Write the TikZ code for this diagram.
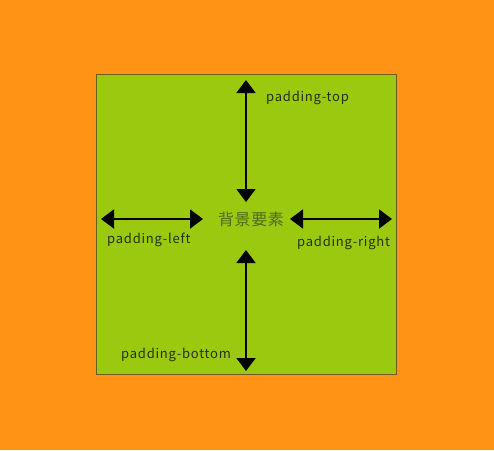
\documentclass[tikz,border=0pt]{standalone}
\usepackage{fontspec}
\setmainfont{Noto Sans CJK JP}
\newfontfamily\padfont[LetterSpace=6]{Noto Sans CJK JP}
\newfontfamily\midfont[LetterSpace=4]{Noto Sans CJK JP}
\usetikzlibrary{arrows.meta}
\definecolor{pageorange}{HTML}{FF9315}
\definecolor{boxgreen}{HTML}{9BC90F}
\definecolor{boxedge}{HTML}{6B5E1C}
\definecolor{midtext}{HTML}{4E6A1C}
\definecolor{labeltext}{HTML}{26300C}
\tikzset{
  padarrow/.style={{Triangle[width=19pt,length=13pt]}-{Triangle[width=19pt,length=13pt]}, line width=2pt, black},
  padlabel/.style={anchor=west, inner sep=0pt, font=\padfont\fontsize{13}{15}\selectfont, text=labeltext},
}
\begin{document}
\begin{tikzpicture}[x=1pt,y=-1pt]
        % Page and box
        \fill[pageorange] (0,0) rectangle (494,450);
        \filldraw[fill=boxgreen, draw=boxedge, line width=0.8pt] (96,74) rectangle (396,374);
        
        % Background element
        \node[inner sep=0pt, font=\midfont\fontsize{16}{18}\selectfont, text=midtext] (bg) at (251,219) {背景要素};
        
        % Arrow ends
        \coordinate (topA) at (246,80);
        \coordinate (topB) at (246,202);
        \coordinate (botA) at (246,250);
        \coordinate (botB) at (246,371);
        \coordinate (leftA) at (101,219);
        \coordinate (leftB) at (203,219);
        \coordinate (rightA) at (290,219);
        \coordinate (rightB) at (392,219);
        
        % Padding arrows
        \draw[padarrow] (topA) -- (topB);
        \draw[padarrow] (botA) -- (botB);
        \draw[padarrow] (leftA) -- (leftB);
        \draw[padarrow] (rightA) -- (rightB);
        
        % Labels
        \node[padlabel] (ptop) at (266,98) {padding-top};
        \node[padlabel] (pleft) at (107,240) {padding-left};
        \node[padlabel] (pright) at (297,243) {padding-right};
        \node[padlabel] (pbottom) at (121,355) {padding-bottom};
\end{tikzpicture}
\end{document}
